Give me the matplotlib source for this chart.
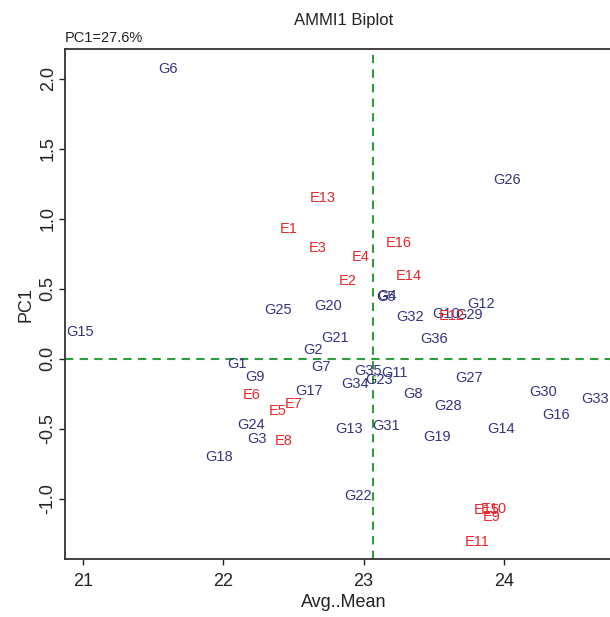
import matplotlib
matplotlib.use("Agg")
import matplotlib.pyplot as plt

plt.rcParams['font.family'] = ['Liberation Sans', 'DejaVu Sans']

# Genotype scores (mean, PC1)
gen_names = ["G1", "G2", "G3", "G4", "G5", "G6", "G7", "G8", "G9", "G10",
             "G11", "G12", "G13", "G14", "G15", "G16", "G17", "G18", "G19", "G20",
             "G21", "G22", "G23", "G24", "G25", "G26", "G27", "G28", "G29", "G30",
             "G31", "G32", "G33", "G34", "G35", "G36"]
gen_mean = [22.10, 22.64, 22.24, 23.165, 23.16, 21.61, 22.70, 23.35, 22.23, 23.59,
            23.22, 23.84, 22.90, 23.98, 20.98, 24.37, 22.61, 21.97, 23.52, 22.75,
            22.80, 22.96, 23.11, 22.20, 22.39, 24.02, 23.75, 23.60, 23.75, 24.28,
            23.16, 23.33, 24.65, 22.94, 23.03, 23.50]
gen_pc1 = [-0.04, 0.06, -0.57, 0.445, 0.44, 2.07, -0.06, -0.25, -0.13, 0.32,
           -0.10, 0.39, -0.50, -0.50, 0.19, -0.40, -0.23, -0.70, -0.56, 0.38,
           0.15, -0.98, -0.15, -0.47, 0.35, 1.28, -0.14, -0.34, 0.31, -0.24,
           -0.48, 0.30, -0.29, -0.18, -0.09, 0.14]

# Environment scores (mean, PC1)
env_names = ["E1", "E2", "E3", "E4", "E5", "E6", "E7", "E8", "E9", "E10",
             "E11", "E12", "E13", "E14", "E15", "E16"]
env_mean = [22.47, 22.89, 22.67, 22.98, 22.39, 22.20, 22.50, 22.43, 23.91, 23.93,
            23.81, 23.63, 22.71, 23.32, 23.88, 23.25]
env_pc1 = [0.93, 0.555, 0.79, 0.73, -0.37, -0.26, -0.32, -0.59, -1.13, -1.075,
           -1.31, 0.305, 1.15, 0.59, -1.08, 0.83]

grand_mean = 23.064
pc1_pct = 27.6

fig = plt.figure(figsize=(6.10, 6.17), dpi=100)
ax = fig.add_axes([0.1066, 0.0935, 0.913, 0.827])

gcol = "#35357f"
ecol = "#e8262b"
for n, x, y in zip(gen_names, gen_mean, gen_pc1):
    ax.text(x, y, n, color=gcol, fontsize=10.5, ha='center', va='center')
for n, x, y in zip(env_names, env_mean, env_pc1):
    ax.text(x, y, n, color=ecol, fontsize=10.5, ha='center', va='center')

ax.axvline(grand_mean, color="#2e9e3a", lw=1.5, ls=(0, (4, 3)))
ax.axhline(0, color="#2e9e3a", lw=1.5, ls=(0, (4, 3)))

ax.set_xlim(20.874, 24.84)
ax.set_ylim(-1.433, 2.212)
ax.set_xticks([21, 22, 23, 24])
ax.set_yticks([-1.0, -0.5, 0.0, 0.5, 1.0, 1.5, 2.0])
ax.set_yticklabels(["-1.0", "-0.5", "0.0", "0.5", "1.0", "1.5", "2.0"],
                   rotation=90, va='center')
ax.tick_params(axis='both', direction='out', length=4.5, width=1.0,
               labelsize=13, color='#222222', labelcolor='#222222')
ax.tick_params(axis='x', pad=5)
ax.tick_params(axis='y', pad=1.5)
for s in ax.spines.values():
    s.set_linewidth(1.3)
    s.set_color('#333333')

ax.set_xlabel("Avg..Mean", fontsize=13, color='#222222', labelpad=3)
ax.set_ylabel("PC1", fontsize=13, color='#222222', labelpad=4)
ax.set_title("AMMI1 Biplot", fontsize=12, color='#222222', pad=17)
ax.text(0.0, 1.008, "PC1=%.1f%%" % pc1_pct, transform=ax.transAxes,
        fontsize=10.5, ha='left', va='bottom', color='#222222')

fig.savefig("out.png", dpi=100)
